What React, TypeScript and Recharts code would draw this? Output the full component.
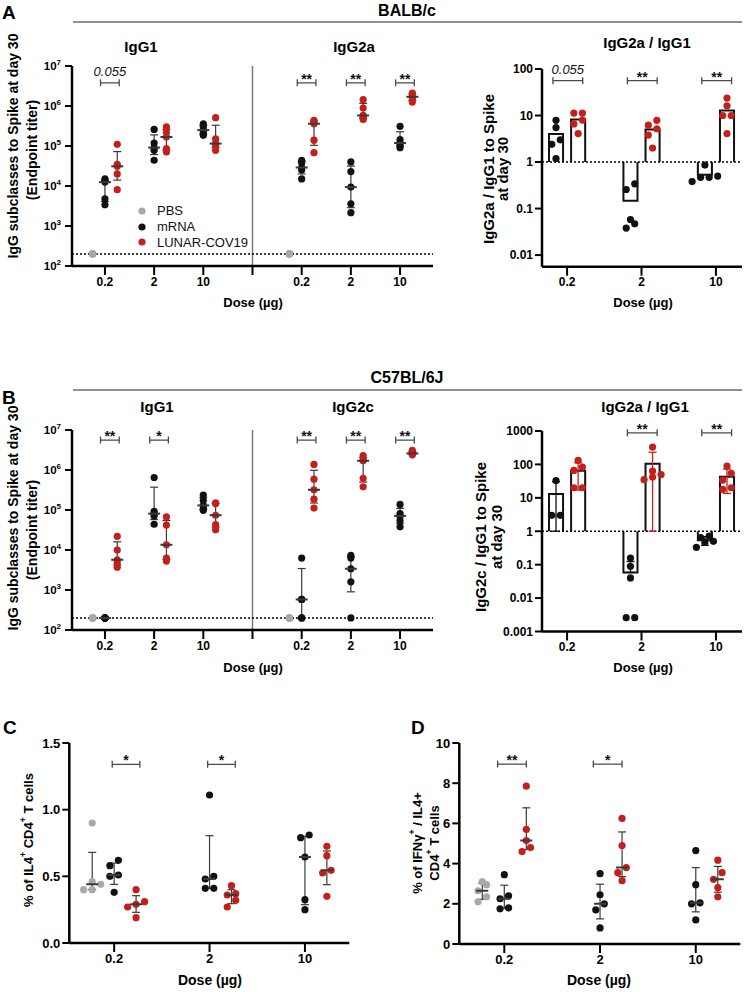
import React from 'react';
import {
  ScatterChart,
  Scatter,
  XAxis,
  YAxis,
  ReferenceLine,
  ReferenceArea,
  ErrorBar,
  Legend,
} from 'recharts';

const FONT = 'Arial, "Liberation Sans", Helvetica, sans-serif';
const INK = '#111111';
const RED = '#c3201c';
const GREY = '#a8a8a8';
const WHISKER = '#3a3a3a';

const doses = ['0.2', '2', '10'];

// ---- A: BALB/c, IgG endpoint titers at day 30 (one row per dose) ----
const balbPbs = [200, 200, 200, 200, 200];
const balbIgG1Mrna = [
  [15000, 13500, 12500, 4800, 3400],
  [260000, 119000, 91000, 78000, 44000],
  [360000, 300000, 250000, 210000, 185000],
];
const balbIgG1Lunar = [
  [110000, 35000, 31000, 20000, 8100],
  [300000, 220000, 168000, 86000, 71000],
  [510000, 150000, 115000, 105000, 78000],
];
const balbIgG2aMrna = [
  [44000, 38000, 29000, 25000, 15000],
  [40000, 23000, 9400, 3600, 2150],
  [310000, 144000, 119000, 104000, 91000],
];
const balbIgG2aLunar = [
  [440000, 400000, 360000, 140000, 68000],
  [1440000, 890000, 580000, 520000, 460000],
  [2100000, 1900000, 1700000, 1500000, 1250000],
];
const balbIgG1Sig = ['0.055', '', ''];
const balbIgG2aSig = ['**', '**', '**'];

// IgG2a / IgG1 ratio
const balbRatioMrna = [
  [7.9, 5.5, 3.0, 2.4, 1.18],
  [0.34, 0.257, 0.058, 0.047, 0.038],
  [0.86, 0.5, 0.47, 0.47, 0.38],
];
const balbRatioLunar = [
  [11.3, 11.3, 8.0, 6.6, 4.1],
  [7.9, 6.2, 5.2, 3.8, 2.0],
  [23.7, 16.2, 10, 10, 4.1],
];
const balbRatioSig = ['0.055', '**', '**'];

// ---- B: C57BL/6J ----
const c57Pbs = [200, 200, 200, 200, 200];
const c57IgG1Mrna = [
  [200, 200, 200, 200, 200],
  [650000, 93000, 81000, 71000, 44000],
  [236000, 175000, 130000, 108000, 98000],
];
const c57IgG1Lunar = [
  [22000, 10000, 5700, 4800, 3700],
  [67000, 42000, 13500, 6300, 5300],
  [150000, 145000, 74000, 43000, 32000],
];
const c57IgG2cMrna = [
  [6300, 580, 580, 200, 200],
  [7300, 6300, 3400, 1600, 200],
  [138000, 81000, 71000, 55000, 38000],
];
const c57IgG2cLunar = [
  [1380000, 590000, 320000, 187000, 112000],
  [2300000, 1800000, 1700000, 620000, 380000],
  [3100000, 2800000, 2600000, 2500000, 2400000],
];
const c57IgG1Sig = ['**', '*', ''];
const c57IgG2cSig = ['**', '**', '**'];

const c57RatioMrna = [
  [33, 3, 3],
  [0.158, 0.089, 0.04, 0.0026, 0.0026],
  [0.72, 0.65, 0.5, 0.47, 0.33],
];
const c57RatioLunar = [
  [132, 83, 66, 20, 20],
  [331, 63, 50, 42, 35],
  [89, 54, 34, 20, 18],
];
const c57RatioSig = ['', '**', '**'];

// ---- C: % IL4+ of CD4+ T cells ----
const il4Pbs = [0.9, 0.46, 0.44, 0.4, 0.4];
const il4Mrna = [
  [0.62, 0.58, 0.51, 0.5, 0.38],
  [1.11, 0.5, 0.48, 0.41, 0.41],
  [0.81, 0.79, 0.645, 0.325, 0.25],
];
const il4Lunar = [
  [0.4, 0.31, 0.29, 0.27, 0.19],
  [0.43, 0.37, 0.36, 0.32, 0.27],
  [0.725, 0.655, 0.545, 0.525, 0.35],
];
const il4Sig = ['*', '*', ''];

// ---- D: IFNg+ / IL4+ CD4+ T cells ----
const ifnPbs = [3.1, 2.95, 2.65, 2.35, 2.1];
const ifnMrna = [
  [3.45, 2.4, 2.25, 1.8, 1.75],
  [3.5, 2.45, 2.0, 1.7, 0.8],
  [4.65, 2.95, 2.05, 2.0, 1.2],
];
const ifnLunar = [
  [7.85, 5.7, 5.15, 4.8, 4.6],
  [6.25, 4.9, 3.8, 3.55, 3.15],
  [4.17, 3.55, 3.22, 2.8, 2.35],
];
const ifnSig = ['**', '*', ''];

const legendItems = [
  { name: 'PBS', color: GREY },
  { name: 'mRNA', color: INK },
  { name: 'LUNAR-COV19', color: RED },
];

// ---------- helpers ----------
// median + quartiles the way Prism does it ((n+1)p)
function quart(vals: number[]) {
  const s = [...vals].sort((a, b) => a - b);
  const n = s.length;
  const at = (p: number) => {
    const h = (n + 1) * p;
    const lo = Math.floor(h);
    if (lo < 1) return s[0];
    if (lo >= n) return s[n - 1];
    return s[lo - 1] + (h - lo) * (s[lo] - s[lo - 1]);
  };
  return { q1: at(0.25), med: at(0.5), q3: at(0.75) };
}

const mean = (v: number[]) => v.reduce((a, b) => a + b, 0) / v.length;
const sd = (v: number[]) => {
  const m = mean(v);
  return Math.sqrt(v.reduce((a, b) => a + (b - m) * (b - m), 0) / (v.length - 1));
};

// push points that would sit on top of each other sideways (like a scatter dot plot)
function spread(vals: number[], toPx: (v: number) => number, step: number, pxPerUnit: number) {
  const order = vals.map((_, i) => i).sort((a, b) => toPx(vals[a]) - toPx(vals[b]));
  const off = vals.map(() => 0);
  let row: number[] = [];
  const flush = () => {
    row.forEach((idx, k) => {
      off[idx] = ((k - (row.length - 1) / 2) * step) / pxPerUnit;
    });
    row = [];
  };
  order.forEach((i) => {
    if (row.length && Math.abs(toPx(vals[i]) - toPx(vals[row[0]])) >= 7) flush();
    row.push(i);
  });
  flush();
  return off;
}

const points = (groups: number[][], slots: number[], shift: number, toPx?: (v: number) => number, pxPerUnit = 1, step = 0) =>
  groups.flatMap((vals, g) => {
    const off = toPx && step ? spread(vals, toPx, step, pxPerUnit) : vals.map(() => 0);
    return vals.map((y, i) => ({ x: slots[g] + shift + off[i], y }));
  });

const stats = (groups: number[][], slots: number[], shift: number) =>
  groups.map((vals, g) => {
    const q = quart(vals);
    return { x: slots[g] + shift, y: q.med, err: [q.med - q.q1, q.q3 - q.med] };
  });

const dot = (fill: string) => (p: any) => <circle cx={p.cx} cy={p.cy} r={3.6} fill={fill} />;
const medianTick = (p: any) => (
  <line x1={p.cx - 6} x2={p.cx + 6} y1={p.cy} y2={p.cy} stroke={WHISKER} strokeWidth={2} />
);
const hidden = () => <g />;

const bracket = (label: string) => (p: any) => {
  const { x1, x2, y1 } = p;
  const num = /\d/.test(label);
  return (
    <g>
      <path
        d={`M${x1},${y1 - 3.5}V${y1 + 3.5}M${x1},${y1}H${x2}M${x2},${y1 - 3.5}V${y1 + 3.5}`}
        stroke="#4a4a4a"
        strokeWidth={1.3}
        fill="none"
      />
      <text
        x={(x1 + x2) / 2}
        y={num ? y1 - 7 : y1 + 1}
        textAnchor="middle"
        fontFamily={FONT}
        fontSize={num ? 13 : 14}
        fontStyle={num ? 'italic' : 'normal'}
        fontWeight={num ? 400 : 700}
        fill={INK}
      >
        {label}
      </text>
    </g>
  );
};

const barShape = (up: boolean) => (p: any) => {
  const { x, y, width, height } = p;
  const d = up
    ? `M${x},${y + height}V${y}H${x + width}V${y + height}`
    : `M${x},${y}V${y + height}H${x + width}V${y}`;
  return <path d={d} fill="none" stroke={INK} strokeWidth={2} />;
};

const PowTick = (p: any) => {
  const exp = Math.round(Math.log10(p.payload.value));
  return (
    <text x={p.x} y={p.y} dy={4} textAnchor="end" fontFamily={FONT} fontWeight={700} fill="#000">
      <tspan fontSize={11.5}>10</tspan>
      <tspan fontSize={8} dy={-5}>
        {exp}
      </tspan>
    </text>
  );
};

const axisLine = { stroke: '#000', strokeWidth: 2.5 };
const tickLine = { stroke: '#000', strokeWidth: 2 };
const tickFont = { fill: '#000', fontSize: 12, fontWeight: 700, fontFamily: FONT };

const LegendBox = () => (
  <div style={{ fontFamily: FONT, fontSize: 13, color: '#111' }}>
    {legendItems.map((it) => (
      <div key={it.name} style={{ display: 'flex', alignItems: 'center', height: 15.8 }}>
        <svg width={8} height={8} style={{ marginRight: 11 }}>
          <circle cx={4} cy={4} r={3.6} fill={it.color} />
        </svg>
        <span>{it.name}</span>
      </div>
    ))}
  </div>
);

// ---------- panels ----------
function TiterPanel(props: {
  top: number;
  plotTop: number;
  pbs: number[];
  mrnaA: number[][];
  lunarA: number[][];
  mrnaB: number[][];
  lunarB: number[][];
  sigA: string[];
  sigB: string[];
  sigLevel: number;
  legend?: boolean;
}) {
  const { top, plotTop, pbs, mrnaA, lunarA, mrnaB, lunarB, sigA, sigB, sigLevel, legend } = props;
  const H = 320;
  const slotsA = [0, 1, 2];
  const slotsB = [4, 5, 6];
  const xLabels = [...doses, '', ...doses];
  const pbsPts = [...points([pbs], [0], -0.25), ...points([pbs], [4], -0.25)];
  const mrnaPts = [...points(mrnaA, slotsA, 0), ...points(mrnaB, slotsB, 0)];
  const lunarPts = [...points(lunarA, slotsA, 0.25), ...points(lunarB, slotsB, 0.25)];
  const medians = [
    ...stats(mrnaA, slotsA, 0),
    ...stats(lunarA, slotsA, 0.25),
    ...stats(mrnaB, slotsB, 0),
    ...stats(lunarB, slotsB, 0.25),
  ];
  const sigs = [
    ...sigA.map((s, i) => ({ s, slot: slotsA[i] })),
    ...sigB.map((s, i) => ({ s, slot: slotsB[i] })),
  ].filter((d) => d.s);

  return (
    <div style={{ position: 'absolute', left: 0, top }}>
      <ScatterChart width={440} height={H} margin={{ top: plotTop, right: 7, left: 22, bottom: H - plotTop - 200 - 30 }}>
        <XAxis
          type="number"
          dataKey="x"
          domain={[-0.67, 6.67]}
          allowDataOverflow
          ticks={[0, 1, 2, 3, 4, 5, 6]}
          interval={0}
          tickFormatter={(v: number) => xLabels[v]}
          height={30}
          tickSize={9}
          tickMargin={2}
          axisLine={axisLine}
          tickLine={tickLine}
          tick={tickFont}
        />
        <YAxis
          type="number"
          dataKey="y"
          scale="log"
          domain={[100, 1e7]}
          allowDataOverflow
          ticks={[1e2, 1e3, 1e4, 1e5, 1e6, 1e7]}
          interval={0}
          width={50}
          tickSize={7}
          tickMargin={4}
          axisLine={axisLine}
          tickLine={tickLine}
          tick={<PowTick />}
        />
        <ReferenceLine x={3} stroke="#7a7a7a" strokeWidth={1.5} />
        <ReferenceLine y={200} stroke="#000" strokeWidth={1.4} strokeDasharray="2 2" />
        {sigs.map((d) => (
          <ReferenceLine
            key={d.slot}
            segment={[
              { x: d.slot - 0.09, y: sigLevel },
              { x: d.slot + 0.29, y: sigLevel },
            ]}
            shape={bracket(d.s)}
          />
        ))}
        <Scatter name="PBS" data={pbsPts} fill={GREY} shape={dot(GREY)} isAnimationActive={false} />
        <Scatter name="mRNA" data={mrnaPts} fill={INK} shape={dot(INK)} isAnimationActive={false} />
        <Scatter name="LUNAR-COV19" data={lunarPts} fill={RED} shape={dot(RED)} isAnimationActive={false} />
        <Scatter data={medians} shape={medianTick} isAnimationActive={false}>
          <ErrorBar dataKey="err" direction="y" width={4} stroke={WHISKER} strokeWidth={1.2} />
        </Scatter>
        {legend && (
          <Legend
            layout="vertical"
            align="center"
            verticalAlign="middle"
            wrapperStyle={{ left: 138, top: 203, width: 150, height: 50 }}
            content={() => <LegendBox />}
          />
        )}
      </ScatterChart>
    </div>
  );
}

function RatioPanel(props: {
  top: number;
  plotTop: number;
  plotH: number;
  domain: [number, number];
  yTicks: number[];
  mrna: number[][];
  lunar: number[][];
  sig: string[];
  sigLevel: number;
  withSd?: boolean;
}) {
  const { top, plotTop, plotH, domain, yTicks, mrna, lunar, sig, sigLevel, withSd } = props;
  const H = 320;
  const slots = [0, 1, 2];
  const pxPerDecade = plotH / Math.log10(domain[1] / domain[0]);
  const toPx = (v: number) => Math.log10(v) * pxPerDecade;
  const pxPerUnit = 74.2;
  const mPts = points(mrna, slots, -0.1485, toPx, pxPerUnit, 8.5);
  const lPts = points(lunar, slots, 0.1485, toPx, pxPerUnit, 8.5);
  const sdBars = (groups: number[][], shift: number) =>
    groups.map((v, g) => {
      const m = mean(v);
      const s = sd(v);
      const lo = m - s > 0 ? s : m >= 1 ? m - 1 : 0;
      return { x: slots[g] + shift, y: m, err: [lo, s] };
    });

  return (
    <div style={{ position: 'absolute', left: 480, top }}>
      <ScatterChart width={264} height={H} margin={{ top: plotTop, right: 2, left: 17, bottom: H - plotTop - plotH - 30 }}>
        <XAxis
          type="number"
          dataKey="x"
          domain={[-0.337, 2.35]}
          allowDataOverflow
          ticks={[0, 1, 2]}
          interval={0}
          tickFormatter={(v: number) => doses[v]}
          height={30}
          tickSize={9}
          tickMargin={2}
          axisLine={axisLine}
          tickLine={tickLine}
          tick={tickFont}
        />
        <YAxis
          type="number"
          dataKey="y"
          scale="log"
          domain={domain}
          allowDataOverflow
          ticks={yTicks}
          interval={0}
          width={45}
          tickSize={7}
          tickMargin={2}
          tickFormatter={(v: number) => String(v)}
          axisLine={axisLine}
          tickLine={tickLine}
          tick={tickFont}
        />
        <ReferenceLine y={1} stroke="#000" strokeWidth={1.4} strokeDasharray="2 2" />
        {mrna.map((v, g) => (
          <ReferenceArea key={'m' + g} x1={g - 0.243} x2={g - 0.054} y1={1} y2={mean(v)} shape={barShape(mean(v) >= 1)} />
        ))}
        {lunar.map((v, g) => (
          <ReferenceArea key={'l' + g} x1={g + 0.054} x2={g + 0.243} y1={1} y2={mean(v)} shape={barShape(mean(v) >= 1)} />
        ))}
        {sig.map((s, g) =>
          s ? (
            <ReferenceLine
              key={'s' + g}
              segment={[
                { x: g - 0.19, y: sigLevel },
                { x: g + 0.21, y: sigLevel },
              ]}
              shape={bracket(s)}
            />
          ) : null,
        )}
        <Scatter name="mRNA" data={mPts} fill={INK} shape={dot(INK)} isAnimationActive={false} />
        <Scatter name="LUNAR-COV19" data={lPts} fill={RED} shape={dot(RED)} isAnimationActive={false} />
        {withSd && (
          <Scatter data={sdBars(mrna, -0.1485)} shape={hidden} isAnimationActive={false}>
            <ErrorBar dataKey="err" direction="y" width={4} stroke={INK} strokeWidth={1.3} />
          </Scatter>
        )}
        {withSd && (
          <Scatter data={sdBars(lunar, 0.1485)} shape={hidden} isAnimationActive={false}>
            <ErrorBar dataKey="err" direction="y" width={4} stroke={RED} strokeWidth={1.3} />
          </Scatter>
        )}
      </ScatterChart>
    </div>
  );
}

function CellPanel(props: {
  left: number;
  marginLeft: number;
  marginRight: number;
  plotH: number;
  yMax: number;
  yTicks: number[];
  fmt: (v: number) => string;
  pbs: number[];
  mrna: number[][];
  lunar: number[][];
  sig: string[];
  sigLevel: number;
  span: [number, number];
}) {
  const { left, marginLeft, marginRight, plotH, yMax, yTicks, fmt, pbs, mrna, lunar, sig, sigLevel, span } = props;
  const H = 292;
  const plotTop = 43;
  const slots = [0, 1, 2];
  const toPx = (v: number) => (v / yMax) * plotH;
  const pxPerUnit = 95.5;
  const pbsPts = points([pbs], [0], -0.23, toPx, pxPerUnit, 8.5);
  const mPts = points(mrna, slots, 0, toPx, pxPerUnit, 8.5);
  const lPts = points(lunar, slots, 0.23, toPx, pxPerUnit, 8.5);
  const medians = [...stats([pbs], [0], -0.23), ...stats(mrna, slots, 0), ...stats(lunar, slots, 0.23)];

  return (
    <div style={{ position: 'absolute', left, top: 700 }}>
      <ScatterChart
        width={372}
        height={H}
        margin={{ top: plotTop, right: marginRight, left: marginLeft, bottom: H - plotTop - plotH - 30 }}
      >
        <XAxis
          type="number"
          dataKey="x"
          domain={[-0.47, 2.465]}
          allowDataOverflow
          ticks={[0, 1, 2]}
          interval={0}
          tickFormatter={(v: number) => doses[v]}
          height={30}
          tickSize={9}
          tickMargin={2}
          axisLine={axisLine}
          tickLine={tickLine}
          tick={{ ...tickFont, fontSize: 13 }}
        />
        <YAxis
          type="number"
          dataKey="y"
          domain={[0, yMax]}
          allowDataOverflow
          ticks={yTicks}
          interval={0}
          width={45}
          tickSize={7}
          tickMargin={2}
          tickFormatter={fmt}
          axisLine={axisLine}
          tickLine={tickLine}
          tick={{ ...tickFont, fontSize: 13 }}
        />
        {sig.map((s, g) =>
          s ? (
            <ReferenceLine
              key={'s' + g}
              segment={[
                { x: g + span[0], y: sigLevel },
                { x: g + span[1], y: sigLevel },
              ]}
              shape={bracket(s)}
            />
          ) : null,
        )}
        <Scatter name="PBS" data={pbsPts} fill={GREY} shape={dot(GREY)} isAnimationActive={false} />
        <Scatter name="mRNA" data={mPts} fill={INK} shape={dot(INK)} isAnimationActive={false} />
        <Scatter name="LUNAR-COV19" data={lPts} fill={RED} shape={dot(RED)} isAnimationActive={false} />
        <Scatter data={medians} shape={medianTick} isAnimationActive={false}>
          <ErrorBar dataKey="err" direction="y" width={4} stroke={WHISKER} strokeWidth={1.2} />
        </Scatter>
      </ScatterChart>
    </div>
  );
}

// rotated axis title; parts marked sup are raised like a superscript
type Part = { t: string; sup?: boolean };
const VText = ({ x, y, size = 15, parts }: { x: number; y: number; size?: number; parts: Part[] }) => (
  <text
    x={x}
    y={y}
    transform={`rotate(-90 ${x} ${y})`}
    textAnchor="middle"
    dominantBaseline="central"
    fontFamily={FONT}
    fontWeight={700}
    fontSize={size}
    fill="#000"
  >
    {parts.map((p, i) => {
      const prevSup = i > 0 && parts[i - 1].sup;
      const dy = p.sup ? -5 : prevSup ? 5 : 0;
      return (
        <tspan key={i} dy={dy} fontSize={p.sup ? size * 0.68 : size}>
          {p.t}
        </tspan>
      );
    })}
  </text>
);

function Overlay() {
  const b = { fontFamily: FONT, fontWeight: 700, fill: '#000' };
  const plain = (t: string): Part[] => [{ t }];
  return (
    <svg width={744} height={992} style={{ position: 'absolute', left: 0, top: 0, pointerEvents: 'none' }}>
      {/* A */}
      <text x={2} y={19} fontSize={19} {...b}>A</text>
      <text x={407} y={16} fontSize={16} textAnchor="middle" {...b}>BALB/c</text>
      <line x1={73} x2={742} y1={22} y2={22} stroke="#222" strokeWidth={1} />
      <text x={141} y={52} fontSize={15} textAnchor="middle" {...b}>IgG1</text>
      <text x={354} y={52} fontSize={15} textAnchor="middle" {...b}>IgG2a</text>
      <text x={647} y={48} fontSize={15} textAnchor="middle" {...b}>IgG2a / IgG1</text>
      <VText x={13} y={146} size={14} parts={plain('IgG subclasses to Spike at day 30')} />
      <VText x={32} y={150} size={14} parts={plain('(Endpoint titer)')} />
      <VText x={488} y={169} parts={plain('IgG2a / IgG1 to Spike')} />
      <VText x={502} y={169} parts={plain('at day 30')} />
      <text x={253} y={307} fontSize={13} textAnchor="middle" {...b}>Dose (µg)</text>
      <text x={643} y={307} fontSize={13} textAnchor="middle" {...b}>Dose (µg)</text>

      {/* B */}
      <text x={2} y={404} fontSize={19} {...b}>B</text>
      <text x={407} y={383} fontSize={16} textAnchor="middle" {...b}>C57BL/6J</text>
      <line x1={73} x2={742} y1={390} y2={390} stroke="#222" strokeWidth={1} />
      <text x={157} y={412} fontSize={15} textAnchor="middle" {...b}>IgG1</text>
      <text x={353} y={412} fontSize={15} textAnchor="middle" {...b}>IgG2c</text>
      <text x={645} y={412} fontSize={15} textAnchor="middle" {...b}>IgG2a / IgG1</text>
      <VText x={13} y={518} size={14} parts={plain('IgG subclasses to Spike at day 30')} />
      <VText x={32} y={530} size={14} parts={plain('(Endpoint titer)')} />
      <VText x={480} y={537} parts={plain('IgG2c / IgG1 to Spike')} />
      <VText x={496} y={537} parts={plain('at day 30')} />
      <text x={253} y={672} fontSize={13} textAnchor="middle" {...b}>Dose (µg)</text>
      <text x={643} y={672} fontSize={13} textAnchor="middle" {...b}>Dose (µg)</text>

      {/* C, D */}
      <text x={3} y={734} fontSize={19} {...b}>C</text>
      <text x={411} y={734} fontSize={19} {...b}>D</text>
      <VText
        x={28}
        y={840}
        size={13}
        parts={[{ t: '% of IL4' }, { t: '+', sup: true }, { t: ' CD4' }, { t: '+', sup: true }, { t: ' T cells' }]}
      />
      <VText x={417} y={843} size={13} parts={[{ t: '% of IFNγ' }, { t: '+', sup: true }, { t: ' / IL4+' }]} />
      <VText x={434} y={843} size={13} parts={[{ t: 'CD4' }, { t: '+', sup: true }, { t: ' T cells' }]} />
      <text x={210} y={985} fontSize={14} textAnchor="middle" {...b}>Dose (µg)</text>
      <text x={599} y={985} fontSize={14} textAnchor="middle" {...b}>Dose (µg)</text>
    </svg>
  );
}

export default function App() {
  return (
    <div style={{ position: 'absolute', left: 0, top: 0, width: 744, height: 992, background: '#fff', fontFamily: FONT }}>
      <TiterPanel
        top={0}
        plotTop={66}
        pbs={balbPbs}
        mrnaA={balbIgG1Mrna}
        lunarA={balbIgG1Lunar}
        mrnaB={balbIgG2aMrna}
        lunarB={balbIgG2aLunar}
        sigA={balbIgG1Sig}
        sigB={balbIgG2aSig}
        sigLevel={3.8e6}
        legend
      />
      <RatioPanel
        top={0}
        plotTop={69}
        plotH={197.7}
        domain={[Math.pow(10, -2.25), 100]}
        yTicks={[0.01, 0.1, 1, 10, 100]}
        mrna={balbRatioMrna}
        lunar={balbRatioLunar}
        sig={balbRatioSig}
        sigLevel={56}
      />
      <TiterPanel
        top={360}
        plotTop={70}
        pbs={c57Pbs}
        mrnaA={c57IgG1Mrna}
        lunarA={c57IgG1Lunar}
        mrnaB={c57IgG2cMrna}
        lunarB={c57IgG2cLunar}
        sigA={c57IgG1Sig}
        sigB={c57IgG2cSig}
        sigLevel={5.6e6}
      />
      <RatioPanel
        top={360}
        plotTop={71}
        plotH={200.5}
        domain={[0.001, 1000]}
        yTicks={[0.001, 0.01, 0.1, 1, 10, 100, 1000]}
        mrna={c57RatioMrna}
        lunar={c57RatioLunar}
        sig={c57RatioSig}
        sigLevel={880}
        withSd
      />
      <CellPanel
        left={0}
        marginLeft={24.3}
        marginRight={22.7}
        plotH={200}
        yMax={1.5}
        yTicks={[0, 0.5, 1, 1.5]}
        fmt={(v) => v.toFixed(1)}
        pbs={il4Pbs}
        mrna={il4Mrna}
        lunar={il4Lunar}
        sig={il4Sig}
        sigLevel={1.34}
        span={[-0.02, 0.27]}
      />
      <CellPanel
        left={372}
        marginLeft={42.3}
        marginRight={3.7}
        plotH={201}
        yMax={10}
        yTicks={[0, 2, 4, 6, 8, 10]}
        fmt={(v) => String(v)}
        pbs={ifnPbs}
        mrna={ifnMrna}
        lunar={ifnLunar}
        sig={ifnSig}
        sigLevel={8.95}
        span={[-0.07, 0.23]}
      />
      <Overlay />
    </div>
  );
}
